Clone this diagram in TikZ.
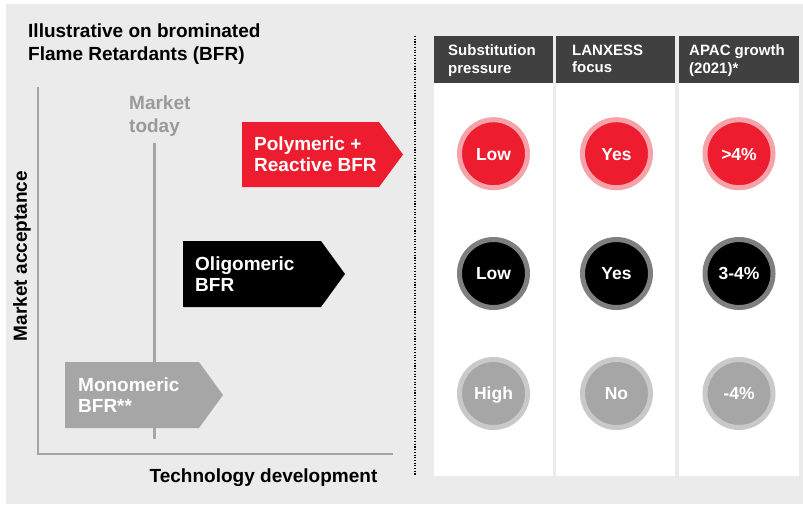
\documentclass[tikz,border=0pt]{standalone}
\usepackage{fontspec}
\setmainfont{Liberation Sans}
\definecolor{bgc}{HTML}{EBEBEB}
\definecolor{lxred}{HTML}{ED1C2E}
\definecolor{lxpink}{HTML}{F5A3A8}
\definecolor{hdr}{HTML}{404040}
\definecolor{midgray}{HTML}{A6A6A6}
\definecolor{ringgray}{HTML}{7F7F7F}
\definecolor{lightring}{HTML}{C9C9C9}
\definecolor{todaygray}{HTML}{9A9A9A}
\tikzset{
  bigtxt/.style={font=\fontsize{19}{21.5}\selectfont\bfseries, inner sep=0pt, align=left},
  hdrtxt/.style={font=\fontsize{15}{17.5}\selectfont\bfseries, text=white, inner sep=0pt, align=left, anchor=north west},
  hdrbox/.style={fill=hdr},
  colbox/.style={fill=white},
  dot/.style={circle, minimum size=68pt, inner sep=0pt, line width=5pt, text=white,
    text height=12.6pt, text depth=0pt,
    font=\fontsize{17.5}{20}\selectfont\bfseries},
  reddot/.style={dot, fill=lxred, draw=lxpink},
  blackdot/.style={dot, fill=black, draw=ringgray},
  graydot/.style={dot, fill=midgray, draw=lightring},
  axisline/.style={draw=midgray, line width=1.6pt},
}
\begin{document}
\begin{tikzpicture}[x=1pt,y=-1pt]
\useasboundingbox (0,0) rectangle (803,504);
\fill[white] (0,0) rectangle (803,504);
\fill[bgc] (6,4) rectangle (803,504);

% title
\node[bigtxt, anchor=north west, font=\fontsize{19}{22.7}\selectfont\bfseries] (title) at (28,23.5)
  {Illustrative on brominated\\Flame Retardants (BFR)};

% axes
\coordinate (ytop) at (38,87);
\coordinate (origin) at (38,454);
\coordinate (xend) at (393,454);
\draw[axisline] (ytop) -- (origin) -- (xend);
\node[bigtxt, rotate=90] (ylab) at (22,256) {Market acceptance};
\node[bigtxt, anchor=base] (xlab) at (263.5,482) {Technology development};

% market today
\node[bigtxt, anchor=north west, text=todaygray, font=\fontsize{19}{23}\selectfont\bfseries] (today) at (129,95.5) {Market\\today};
\coordinate (mtop) at (154,143);
\coordinate (mbot) at (154,439);
\draw[draw=midgray, line width=3pt] (mtop) -- (mbot);

% arrows
\fill[lxred] (242,122) -- (379,122) -- (403,154.5) -- (379,187) -- (242,187) -- cycle;
\node[bigtxt, anchor=north west, text=white] (poly) at (254,136.5) {Polymeric +\\Reactive BFR};

\fill[black] (183,241) -- (321,241) -- (345,274) -- (321,307) -- (183,307) -- cycle;
\node[bigtxt, anchor=north west, text=white] (oligo) at (195,256.5) {Oligomeric\\BFR};

\fill[midgray] (65,362) -- (199,362) -- (223,395) -- (199,428) -- (65,428) -- cycle;
\node[bigtxt, anchor=north west, text=white] (mono) at (78,377.5) {Monomeric\\BFR**};

% dotted separator
\coordinate (dtop) at (415,36);
\coordinate (dbot) at (415,475);
\draw[black, line width=1.2pt, dash pattern=on 1.1pt off 1.6pt] (dtop) -- (dbot);

% columns
\fill[colbox] (434,83) rectangle (553,476);
\fill[colbox] (556,83) rectangle (675,476);
\fill[colbox] (679,83) rectangle (799,476);
\fill[hdrbox] (434,36) rectangle (553,83);
\fill[hdrbox] (556,36) rectangle (675,83);
\fill[hdrbox] (679,36) rectangle (799,83);
\node[hdrtxt] (h1) at (448,44.5) {Substitution\\pressure};
\node[hdrtxt] (h2) at (572,44.5) {LANXESS\\focus};
\node[hdrtxt] (h3) at (689,44.5) {APAC growth\\(2021)*};

% circles
\node[reddot] (c11) at (493.5,153.7) {Low};
\node[reddot] (c12) at (616.5,153.7) {Yes};
\node[reddot] (c13) at (739,153.7) {>4\%};
\node[blackdot] (c21) at (493.5,273.5) {Low};
\node[blackdot] (c22) at (616.5,273.5) {Yes};
\node[blackdot] (c23) at (739,273.5) {3-4\%};
\node[graydot] (c31) at (493.5,393.5) {High};
\node[graydot] (c32) at (616.5,393.5) {No};
\node[graydot] (c33) at (739,393.5) {-4\%};
\end{tikzpicture}
\end{document}
